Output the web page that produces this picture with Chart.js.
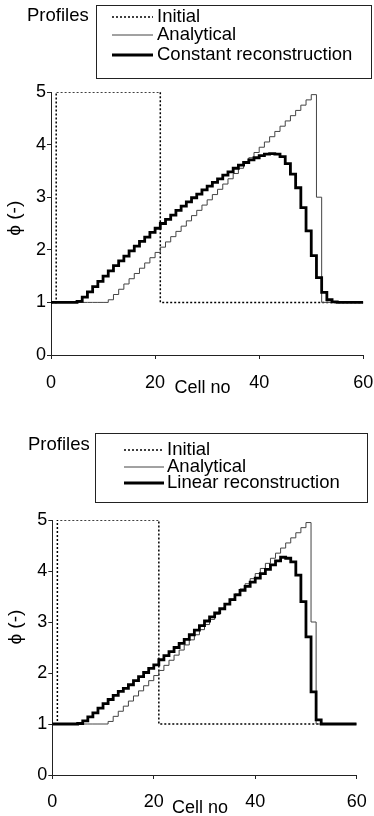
<!DOCTYPE html>
<html>
<head>
<meta charset="utf-8">
<title>Profiles – constant and linear reconstruction</title>
<script src="https://cdn.jsdelivr.net/npm/chart.js@4.4.1/dist/chart.umd.min.js"></script>
<style>
  html, body { margin: 0; padding: 0; background: #fff; }
  #wrap { position: relative; width: 374px; height: 816px; overflow: hidden; }
  #wrap canvas { position: absolute; left: 0; }
</style>
</head>
<body>
<div id="wrap">
  <canvas id="constantChart" width="374" height="410" style="top:0"></canvas>
  <canvas id="linearChart" width="374" height="406" style="top:410px"></canvas>
</div>
<script>
// Cell boundaries; each value holds over [cell, cell + 1]. The final entry repeats
// the last cell so the step line reaches the right end of the axis.
const cellNo = [
  0, 1, 2, 3, 4, 5, 6, 7, 8, 9, 10, 11, 12, 13, 14, 15, 16, 17, 18, 19, 20,
  21, 22, 23, 24, 25, 26, 27, 28, 29, 30, 31, 32, 33, 34, 35, 36, 37, 38, 39, 40,
  41, 42, 43, 44, 45, 46, 47, 48, 49, 50, 51, 52, 53, 54, 55, 56, 57, 58, 59, 60
];

const initialPhi = [
  1, 5, 5, 5, 5, 5, 5, 5, 5, 5, 5, 5, 5, 5, 5, 5, 5, 5, 5, 5, 5,
  1, 1, 1, 1, 1, 1, 1, 1, 1, 1, 1, 1, 1, 1, 1, 1, 1, 1, 1, 1,
  1, 1, 1, 1, 1, 1, 1, 1, 1, 1, 1, 1, 1, 1, 1, 1, 1, 1, 1, 1
];

const analyticalPhi = [
  1, 1, 1, 1, 1, 1, 1, 1, 1, 1, 1,
  1.05, 1.15, 1.25, 1.35, 1.45, 1.55, 1.65, 1.75, 1.85, 1.95,
  2.05, 2.15, 2.25, 2.35, 2.45, 2.55, 2.65, 2.75, 2.85, 2.95,
  3.05, 3.15, 3.25, 3.35, 3.45, 3.55, 3.65, 3.75, 3.85, 3.95,
  4.05, 4.15, 4.25, 4.35, 4.45, 4.55, 4.65, 4.75, 4.85, 4.95,
  3, 1, 1, 1, 1, 1, 1, 1, 1
];

const constantPhi = [
  1, 1, 1, 1, 1, 1.02, 1.10, 1.20, 1.30, 1.40,
  1.50, 1.60, 1.70, 1.79, 1.88, 1.98, 2.07, 2.16, 2.24, 2.33,
  2.41, 2.50, 2.58, 2.66, 2.75, 2.83, 2.91, 2.99, 3.06, 3.14,
  3.21, 3.28, 3.35, 3.42, 3.48, 3.55, 3.61, 3.66, 3.71, 3.75,
  3.79, 3.82, 3.83, 3.82, 3.77, 3.64, 3.44, 3.18, 2.80, 2.36,
  1.89, 1.47, 1.19, 1.05, 1.01, 1, 1, 1, 1, 1, 1
];

const linearPhi = [
  1, 1, 1, 1, 1, 1.01, 1.06, 1.14, 1.22, 1.31,
  1.40, 1.48, 1.56, 1.64, 1.70, 1.77, 1.85, 1.93, 2.01, 2.09,
  2.16, 2.26, 2.34, 2.42, 2.50, 2.58, 2.66, 2.75, 2.84, 2.93,
  3.02, 3.10, 3.18, 3.26, 3.35, 3.44, 3.53, 3.62, 3.70, 3.78,
  3.86, 3.95, 4.03, 4.12, 4.20, 4.27, 4.25, 4.18, 3.92, 3.40,
  2.71, 1.63, 1.08, 1, 1, 1, 1, 1, 1, 1, 1
];

const xTickValues = [0, 20, 40, 60];
const yTickValues = [0, 1, 2, 3, 4, 5];
const legendHeading = 'Profiles';
const xAxisCaption = 'Cell no';
const yAxisCaption = '\u03D5 (-)';

const FONT = "'Liberation Sans', Arial, Helvetica, sans-serif";
Chart.defaults.font.family = FONT;
Chart.defaults.color = '#000';

const toPoints = values => cellNo.map((c, i) => ({ x: c, y: values[i] }));

// Boxed legend with a heading to its left, drawn from the datasets' own styles.
function boxedLegend(geo) {
  return {
    id: 'boxedLegend',
    afterDraw(chart) {
      const ctx = chart.ctx;
      ctx.save();
      ctx.font = geo.fontSize + 'px ' + FONT;
      ctx.fillStyle = '#000';
      ctx.textBaseline = 'middle';
      ctx.textAlign = 'left';
      ctx.fillText(legendHeading, geo.headingX, geo.headingY);
      ctx.strokeStyle = '#222';
      ctx.lineWidth = 1;
      const [l, t, r, b] = geo.box;
      ctx.strokeRect(l + 0.5, t + 0.5, r - l, b - t);
      chart.data.datasets.forEach((ds, i) => {
        const y = geo.rows[i];
        ctx.beginPath();
        ctx.setLineDash(ds.borderDash || []);
        ctx.lineWidth = ds.borderWidth;
        ctx.strokeStyle = ds.borderColor;
        ctx.moveTo(geo.sample[0], y);
        ctx.lineTo(geo.sample[1], y);
        ctx.stroke();
        ctx.setLineDash([]);
        ctx.fillText(ds.label, geo.textX, y);
      });
      ctx.restore();
    }
  };
}

// Axis captions placed against the scales.
function axisCaptions(geo) {
  return {
    id: 'axisCaptions',
    afterDraw(chart) {
      const { ctx, scales: { x, y }, chartArea } = chart;
      ctx.save();
      ctx.fillStyle = '#000';
      ctx.textAlign = 'center';
      ctx.textBaseline = 'middle';
      ctx.font = geo.xFontSize + 'px ' + FONT;
      ctx.fillText(xAxisCaption, x.getPixelForValue(geo.xCaptionAt), chartArea.bottom + geo.xCaptionDrop);
      ctx.font = geo.yFontSize + 'px ' + FONT;
      ctx.translate(geo.yCaptionX, y.getPixelForValue(geo.yCaptionAt));
      ctx.rotate(-Math.PI / 2);
      ctx.fillText(yAxisCaption, 0, 0);
      ctx.restore();
    }
  };
}

function profileChart(canvasId, reconLabel, reconValues, geo) {
  const axisColor = '#222';
  const tickFont = { family: FONT, size: 18 };
  return new Chart(document.getElementById(canvasId), {
    type: 'line',
    data: {
      datasets: [
        { label: 'Initial', data: toPoints(initialPhi), borderColor: '#000', borderWidth: 1.5,
          borderDash: [2, 2], stepped: true, pointRadius: 0, fill: false, order: 2 },
        { label: 'Analytical', data: toPoints(analyticalPhi), borderColor: '#444', borderWidth: 1,
          stepped: true, pointRadius: 0, fill: false, order: 1 },
        { label: reconLabel, data: toPoints(reconValues), borderColor: '#000', borderWidth: 2.8,
          stepped: true, pointRadius: 0, fill: false, order: 0 }
      ]
    },
    options: {
      responsive: false,
      animation: false,
      events: [],
      layout: { padding: { top: geo.top, right: geo.right, left: 0, bottom: 0 } },
      plugins: { legend: { display: false }, tooltip: { enabled: false } },
      scales: {
        x: {
          type: 'linear', min: 0, max: 60,
          afterBuildTicks: s => { s.ticks = xTickValues.map(v => ({ value: v })); },
          afterFit: s => { s.height = geo.xHeight; s.paddingLeft = 0; s.paddingRight = 0; },
          grid: { drawOnChartArea: false, drawTicks: true, tickLength: 4, color: axisColor },
          border: { display: true, color: axisColor, width: 1 },
          ticks: { padding: geo.xPad, maxRotation: 0, color: '#000', font: tickFont }
        },
        y: {
          type: 'linear', min: 0, max: 5,
          afterBuildTicks: s => { s.ticks = yTickValues.map(v => ({ value: v })); },
          afterFit: s => { s.width = geo.yWidth; s.paddingTop = 0; s.paddingBottom = 0; },
          grid: { drawOnChartArea: false, drawTicks: true, tickLength: 4, color: axisColor },
          border: { display: true, color: axisColor, width: 1 },
          ticks: { padding: 1, color: '#000', font: tickFont }
        }
      }
    },
    plugins: [boxedLegend(geo.legend), axisCaptions(geo.captions)]
  });
}

profileChart('constantChart', 'Constant reconstruction', constantPhi, {
  top: 92, right: 10.7, yWidth: 51, xHeight: 55, xPad: 13,
  legend: { fontSize: 18.5, headingX: 27, headingY: 16, box: [96, 5, 371, 78],
            sample: [112, 153], textX: 157, rows: [17, 35, 55] },
  captions: { xFontSize: 18, yFontSize: 19, xCaptionAt: 29.1, xCaptionDrop: 33,
              yCaptionX: 15, yCaptionAt: 2.6 }
});

profileChart('linearChart', 'Linear reconstruction', linearPhi, {
  top: 110, right: 17.3, yWidth: 52.3, xHeight: 41, xPad: 12,
  legend: { fontSize: 18.5, headingX: 28, headingY: 35, box: [95, 23, 367, 92],
            sample: [124, 164], textX: 167, rows: [40, 57, 73] },
  captions: { xFontSize: 18, yFontSize: 19, xCaptionAt: 29.1, xCaptionDrop: 33,
              yCaptionX: 16, yCaptionAt: 2.9 }
});
</script>
</body>
</html>
